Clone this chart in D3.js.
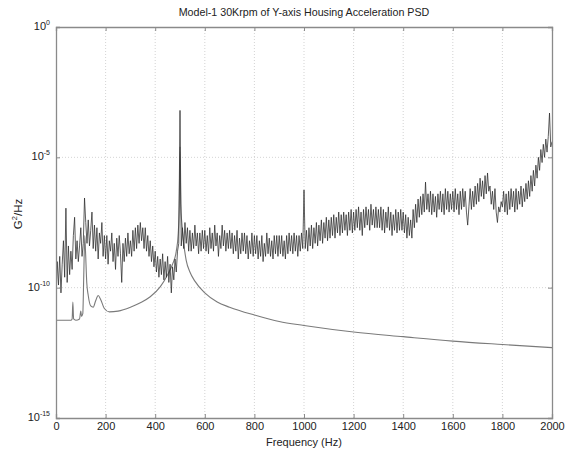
<!DOCTYPE html>
<html>
<head>
<meta charset="utf-8">
<script src="https://cdn.jsdelivr.net/npm/d3@7"></script>
<style>
  html, body { margin: 0; padding: 0; background: #fff; }
  svg { display: block; }
  text { font-family: "Liberation Sans", Arial, sans-serif; fill: #222; }
</style>
</head>
<body>
<svg id="chart" width="573" height="453"></svg>
<script>
// ---------- data ----------
const title = "Model-1 30Krpm of Y-axis Housing Acceleration PSD";
const xLabel = "Frequency (Hz)";
const xTicks = [0, 200, 400, 600, 800, 1000, 1200, 1400, 1600, 1800, 2000];
const yTickExps = [0, -5, -10, -15];

// measured PSD, log10(G^2/Hz), one value per 5 Hz bin (0..2000 Hz)
const binHz = 5;
const measuredLog = [
  -10.4, -9.0, -9.9, -8.8, -10.2, -9.1, -8.2, -9.6, -6.95, -9.8, -8.4, -9.5, -8.6, -9.3, -8.0, -7.3, -8.9, -8.2, -9.0, -8.4,
  -7.7, -8.8, -8.3, -6.56, -7.5, -8.3, -7.4, -8.4, -7.8, -7.1, -8.5, -7.6, -8.6, -7.7, -8.9, -7.9, -8.3, -7.5, -8.8, -8.0,
  -8.9, -8.0, -9.1, -8.2, -8.6, -7.9, -9.0, -8.3, -9.3, -8.1, -8.8, -8.0, -8.7, -9.8, -8.3, -9.0, -8.1, -8.8, -7.9, -8.7,
  -8.2, -8.8, -7.8, -8.6, -7.7, -8.5, -7.6, -8.3, -7.5, -8.2, -7.7, -8.5, -7.7, -8.6, -8.0, -8.8, -8.2, -9.0, -8.4, -9.2,
  -8.6, -9.4, -8.8, -9.6, -8.9, -9.5, -8.7, -9.7, -9.0, -9.6, -8.8, -9.8, -9.1, -10.2, -9.2, -9.7, -8.9, -9.4, -8.6, -8.3,
  -3.2, -8.4, -7.7, -8.5, -7.5, -8.3, -7.7, -8.6, -7.8, -8.6, -7.9, -8.5, -7.6, -8.4, -7.9, -8.7, -7.9, -8.6, -7.8, -8.5,
  -7.8, -8.6, -8.0, -8.7, -7.7, -8.5, -7.9, -8.6, -7.6, -8.4, -7.9, -8.8, -8.0, -8.5, -7.6, -8.4, -7.8, -8.6, -7.9, -8.5,
  -7.8, -8.5, -7.9, -8.7, -8.0, -8.6, -7.8, -8.9, -8.1, -8.7, -7.9, -8.6, -7.9, -8.7, -8.0, -8.9, -8.2, -8.7, -7.9, -8.8,
  -8.0, -8.7, -8.0, -8.9, -8.2, -8.8, -8.0, -9.0, -8.3, -8.8, -7.9, -8.7, -8.1, -8.8, -8.2, -8.9, -8.0, -8.7, -8.0, -8.8,
  -8.0, -8.7, -8.0, -8.8, -8.2, -8.9, -8.0, -8.7, -7.9, -8.6, -8.0, -8.7, -7.9, -8.6, -8.0, -8.8, -8.0, -8.6, -7.9, -8.5,
  -6.25, -8.5, -7.8, -8.6, -7.7, -8.4, -7.6, -8.5, -7.7, -8.3, -7.5, -8.4, -7.6, -8.2, -7.4, -8.3, -7.5, -8.1, -7.3, -8.2,
  -7.4, -8.1, -7.3, -8.0, -7.2, -8.1, -7.3, -7.9, -7.1, -8.0, -7.2, -7.9, -7.1, -7.8, -7.2, -8.0, -7.1, -7.8, -7.0, -7.9,
  -7.1, -7.8, -7.0, -7.7, -6.9, -7.8, -7.1, -8.0, -7.0, -7.7, -6.9, -7.6, -7.0, -7.8, -6.8, -7.6, -7.0, -7.7, -6.9, -7.7,
  -7.0, -7.7, -6.9, -7.8, -7.0, -7.9, -7.1, -7.7, -6.9, -7.8, -7.1, -8.0, -7.2, -7.8, -7.0, -7.9, -7.1, -7.8, -7.0, -7.8,
  -7.1, -7.9, -7.2, -8.1, -7.3, -8.0, -7.4, -8.1, -7.0, -7.7, -6.8, -7.5, -6.6, -7.3, -6.5, -7.2, -6.4, -7.1, -5.95, -7.0,
  -6.4, -7.1, -6.3, -7.2, -6.4, -7.1, -6.5, -7.3, -6.4, -7.0, -6.3, -7.1, -6.4, -7.2, -6.2, -7.0, -6.3, -7.1, -6.4, -7.0,
  -6.3, -7.1, -6.2, -7.0, -6.4, -7.2, -6.3, -7.0, -6.2, -6.9, -6.3, -7.1, -7.6, -6.9, -6.2, -7.0, -6.3, -6.9, -6.1, -6.8,
  -6.0, -6.7, -5.8, -6.5, -5.9, -6.6, -5.7, -6.4, -5.6, -6.3, -6.1, -6.8, -6.3, -7.0, -6.2, -7.1, -7.5, -6.9, -7.1, -6.7,
  -6.9, -6.3, -7.1, -6.4, -7.2, -6.3, -7.0, -6.2, -6.9, -6.3, -7.1, -6.2, -7.0, -6.3, -6.8, -6.1, -6.9, -6.2, -6.7, -6.0,
  -6.6, -5.9, -6.5, -5.7, -6.3, -5.5, -6.1, -5.3, -5.8, -5.0, -5.5, -4.7, -5.2, -4.5, -5.0, -4.3, -4.8, -4.2, -3.3, -4.6,
  -4.4
];

// model PSD (smooth curve)
const modelFreq = [0, 60, 65, 68, 71, 80, 95, 100, 103, 108, 112, 116, 119, 124, 130, 140, 150, 160, 170, 180, 195, 215, 250, 300, 340, 380, 420, 450, 470, 485, 493, 497, 500, 503, 508, 515, 525, 540, 560, 600, 650, 700, 800, 900, 1000, 1200, 1400, 1600, 1800, 2000];
const modelLog  = [-11.25, -11.25, -11.2, -10.55, -11.2, -11.25, -11.2, -10.9, -11.1, -11.0, -9.5, -8.0, -8.6, -9.8, -10.3, -10.7, -10.75, -10.5, -10.3, -10.45, -10.8, -10.93, -10.9, -10.75, -10.58, -10.35, -9.97, -9.5, -9.1, -8.6, -7.9, -6.8, -4.6, -6.8, -7.6, -8.3, -8.95, -9.4, -9.75, -10.2, -10.55, -10.75, -11.05, -11.3, -11.45, -11.7, -11.88, -12.05, -12.18, -12.3];

// ---------- layout ----------
const L = 56, R = 552, T = 27, B = 418;
const svg = d3.select("#chart");
svg.append("rect").attr("width", 573).attr("height", 453).attr("fill", "#fff");

const x = d3.scaleLinear().domain([0, 2000]).range([L, R]);
const y = d3.scaleLog().domain([1e-15, 1]).range([B, T]);

// grid
const grid = svg.append("g").attr("stroke", "#c8c8c8").attr("stroke-width", 0.8).attr("stroke-dasharray", "1,2");
grid.selectAll("line.gx").data(xTicks.slice(1, -1)).enter().append("line")
  .attr("x1", d => x(d)).attr("x2", d => x(d)).attr("y1", T).attr("y2", B);
grid.selectAll("line.gy").data(yTickExps.slice(1, -1)).enter().append("line")
  .attr("x1", L).attr("x2", R).attr("y1", d => y(Math.pow(10, d))).attr("y2", d => y(Math.pow(10, d)));

svg.append("clipPath").attr("id", "clip").append("rect")
  .attr("x", L).attr("y", T).attr("width", R - L).attr("height", B - T);

// model curve
const modelData = modelFreq.map((f, i) => [f, Math.pow(10, modelLog[i])]);
svg.append("path").datum(modelData)
  .attr("clip-path", "url(#clip)")
  .attr("fill", "none").attr("stroke", "#7a7a7a").attr("stroke-width", 1.1)
  .attr("d", d3.line().x(d => x(d[0])).y(d => y(d[1])).curve(d3.curveMonotoneX));

// measured curve
const measData = measuredLog.map((v, i) => [i * binHz, Math.pow(10, v)]);
svg.append("path").datum(measData)
  .attr("clip-path", "url(#clip)")
  .attr("fill", "none").attr("stroke", "#2a2a2a").attr("stroke-width", 0.75)
  .attr("d", d3.line().x(d => x(d[0])).y(d => y(d[1])));

// axes (box, inward ticks)
const axisColor = "#8a8a8a";
const xb = svg.append("g").attr("transform", `translate(0,${B})`)
  .call(d3.axisBottom(x).tickValues(xTicks).tickSize(-4).tickPadding(4).tickFormat(d3.format("d")));
const xt = svg.append("g").attr("transform", `translate(0,${T})`)
  .call(d3.axisTop(x).tickValues(xTicks).tickSize(-4).tickFormat(""));
const yl = svg.append("g").attr("transform", `translate(${L},0)`)
  .call(d3.axisLeft(y).tickValues(yTickExps.map(e => Math.pow(10, e))).tickSize(-4).tickFormat(""));
const yr = svg.append("g").attr("transform", `translate(${R},0)`)
  .call(d3.axisRight(y).tickValues(yTickExps.map(e => Math.pow(10, e))).tickSize(-4).tickFormat(""));
[xb, xt, yl, yr].forEach(g => {
  g.select(".domain").attr("stroke", axisColor).attr("stroke-width", 1.3);
  g.selectAll(".tick line").attr("stroke", axisColor);
});
xb.selectAll(".tick text").attr("font-size", 11).attr("fill", "#222")
  .attr("font-family", "Liberation Sans, Arial, sans-serif");

// y tick labels 10^e
yTickExps.forEach(e => {
  const t = svg.append("text").attr("x", 50).attr("y", y(Math.pow(10, e)) + 3)
    .attr("text-anchor", "end").attr("font-size", 11);
  t.append("tspan").text("10");
  t.append("tspan").attr("dy", -5).attr("font-size", 7).text(String(e));
});

// title and labels
svg.append("text").attr("x", (L + R) / 2).attr("y", 16).attr("text-anchor", "middle")
  .attr("font-size", 10.7).text(title);
svg.append("text").attr("x", (L + R) / 2).attr("y", 446).attr("text-anchor", "middle")
  .attr("font-size", 11).text(xLabel);
const yt = svg.append("text").attr("transform", `translate(22,214) rotate(-90)`)
  .attr("text-anchor", "middle").attr("font-size", 11.5);
yt.append("tspan").text("G");
yt.append("tspan").attr("dy", -5).attr("font-size", 7.5).text("2");
yt.append("tspan").attr("dy", 5).text("/Hz");
</script>
</body>
</html>
